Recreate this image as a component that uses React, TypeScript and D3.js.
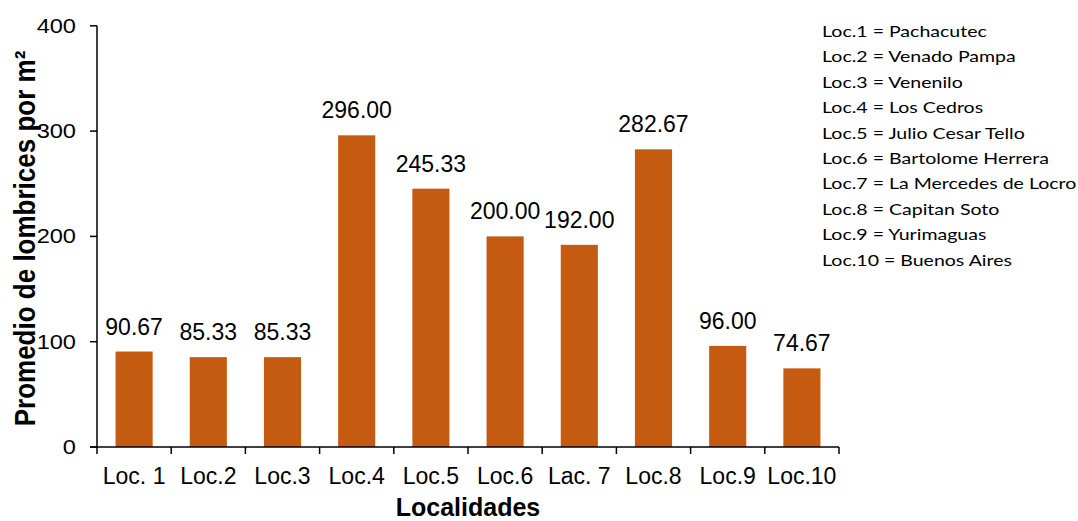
import React from "react";
import * as d3 from "d3";

// Locality codes shown along the x axis
const categories = ["Loc. 1", "Loc.2", "Loc.3", "Loc.4", "Loc.5", "Loc.6", "Lac. 7", "Loc.8", "Loc.9", "Loc.10"];
// Mean earthworms per square metre
const values = [90.67, 85.33, 85.33, 296.0, 245.33, 200.0, 192.0, 282.67, 96.0, 74.67];
const yTicks = [0, 100, 200, 300, 400];
// Key to the locality codes
const legendLines = [
  "Loc.1 = Pachacutec",
  "Loc.2 = Venado Pampa",
  "Loc.3 = Venenilo",
  "Loc.4 = Los Cedros",
  "Loc.5 = Julio Cesar Tello",
  "Loc.6 = Bartolome Herrera",
  "Loc.7 = La Mercedes de Locro",
  "Loc.8 = Capitan Soto",
  "Loc.9 = Yurimaguas",
  "Loc.10 = Buenos Aires",
];

const W = 1078;
const H = 521;
const left = 97;
const right = 839;
const top = 25.8;
const bottom = 447;
const BAR = "#C55A11";
const ARIAL = "'Liberation Sans', Arial, sans-serif";

export default function App() {
  const x = d3.scaleBand<string>().domain(categories).range([left, right]).paddingInner(0.5).paddingOuter(0.25);
  const y = d3.scaleLinear().domain([0, 400]).range([bottom, top]);
  const step = x.step();
  const boundaries = d3.range(categories.length + 1).map((i) => left + i * step);

  return (
    <svg
      width={W}
      height={H}
      style={{ position: "absolute", left: 0, top: 0, background: "#fff" }}
    >
      {/* bars */}
      {categories.map((c, i) => (
        <rect
          key={c}
          x={x(c)}
          y={y(values[i])}
          width={x.bandwidth()}
          height={bottom - y(values[i])}
          fill={BAR}
        />
      ))}
      {/* value labels */}
      {categories.map((c, i) => (
        <text
          key={"v" + c}
          x={(x(c) as number) + x.bandwidth() / 2}
          y={y(values[i]) - 17}
          textAnchor="middle"
          fontFamily={ARIAL}
          fontSize={23}
          fill="#000"
        >
          {values[i].toFixed(2)}
        </text>
      ))}
      {/* y axis */}
      <line x1={left} x2={left} y1={top} y2={bottom} stroke="#000" strokeWidth={1.5} />
      {yTicks.map((t) => (
        <g key={"y" + t}>
          <line x1={left - 7} x2={left} y1={y(t)} y2={y(t)} stroke="#000" strokeWidth={1.5} />
          <text
            transform={`translate(${left - 21},${y(t) + 7}) scale(1.18,1)`}
            textAnchor="end"
            fontFamily={ARIAL}
            fontSize={20}
            fill="#000"
          >
            {t}
          </text>
        </g>
      ))}
      {/* x axis */}
      <line x1={left - 7} x2={right} y1={bottom} y2={bottom} stroke="#000" strokeWidth={1.5} />
      {boundaries.map((b, i) => (
        <line key={"xt" + i} x1={b} x2={b} y1={bottom} y2={bottom + 7} stroke="#000" strokeWidth={1.5} />
      ))}
      {categories.map((c) => (
        <text
          key={"x" + c}
          x={(x(c) as number) + x.bandwidth() / 2}
          y={484}
          textAnchor="middle"
          fontFamily={ARIAL}
          fontSize={23}
          fill="#000"
        >
          {c}
        </text>
      ))}
      {/* axis titles */}
      <text
        x={(left + right) / 2}
        y={516}
        textAnchor="middle"
        fontFamily={ARIAL}
        fontWeight="bold"
        fontSize={25}
        fill="#000"
      >
        Localidades
      </text>
      <text
        transform={`translate(35,${(45 + 432) / 2}) rotate(-90) scale(1,1.1)`}
        textAnchor="middle"
        fontFamily={ARIAL}
        fontWeight="bold"
        fontSize={26}
        fill="#000"
      >
        Promedio de lombrices por m²
      </text>
      {/* locality key */}
      {legendLines.map((l, i) => (
        <text
          key={"lg" + i}
          transform={`translate(822,${37 + i * 25.4}) scale(1.26,1)`}
          fontFamily="Lato, 'Open Sans', sans-serif"
          fontSize={15.5}
          fill="#000"
        >
          {l}
        </text>
      ))}
    </svg>
  );
}
